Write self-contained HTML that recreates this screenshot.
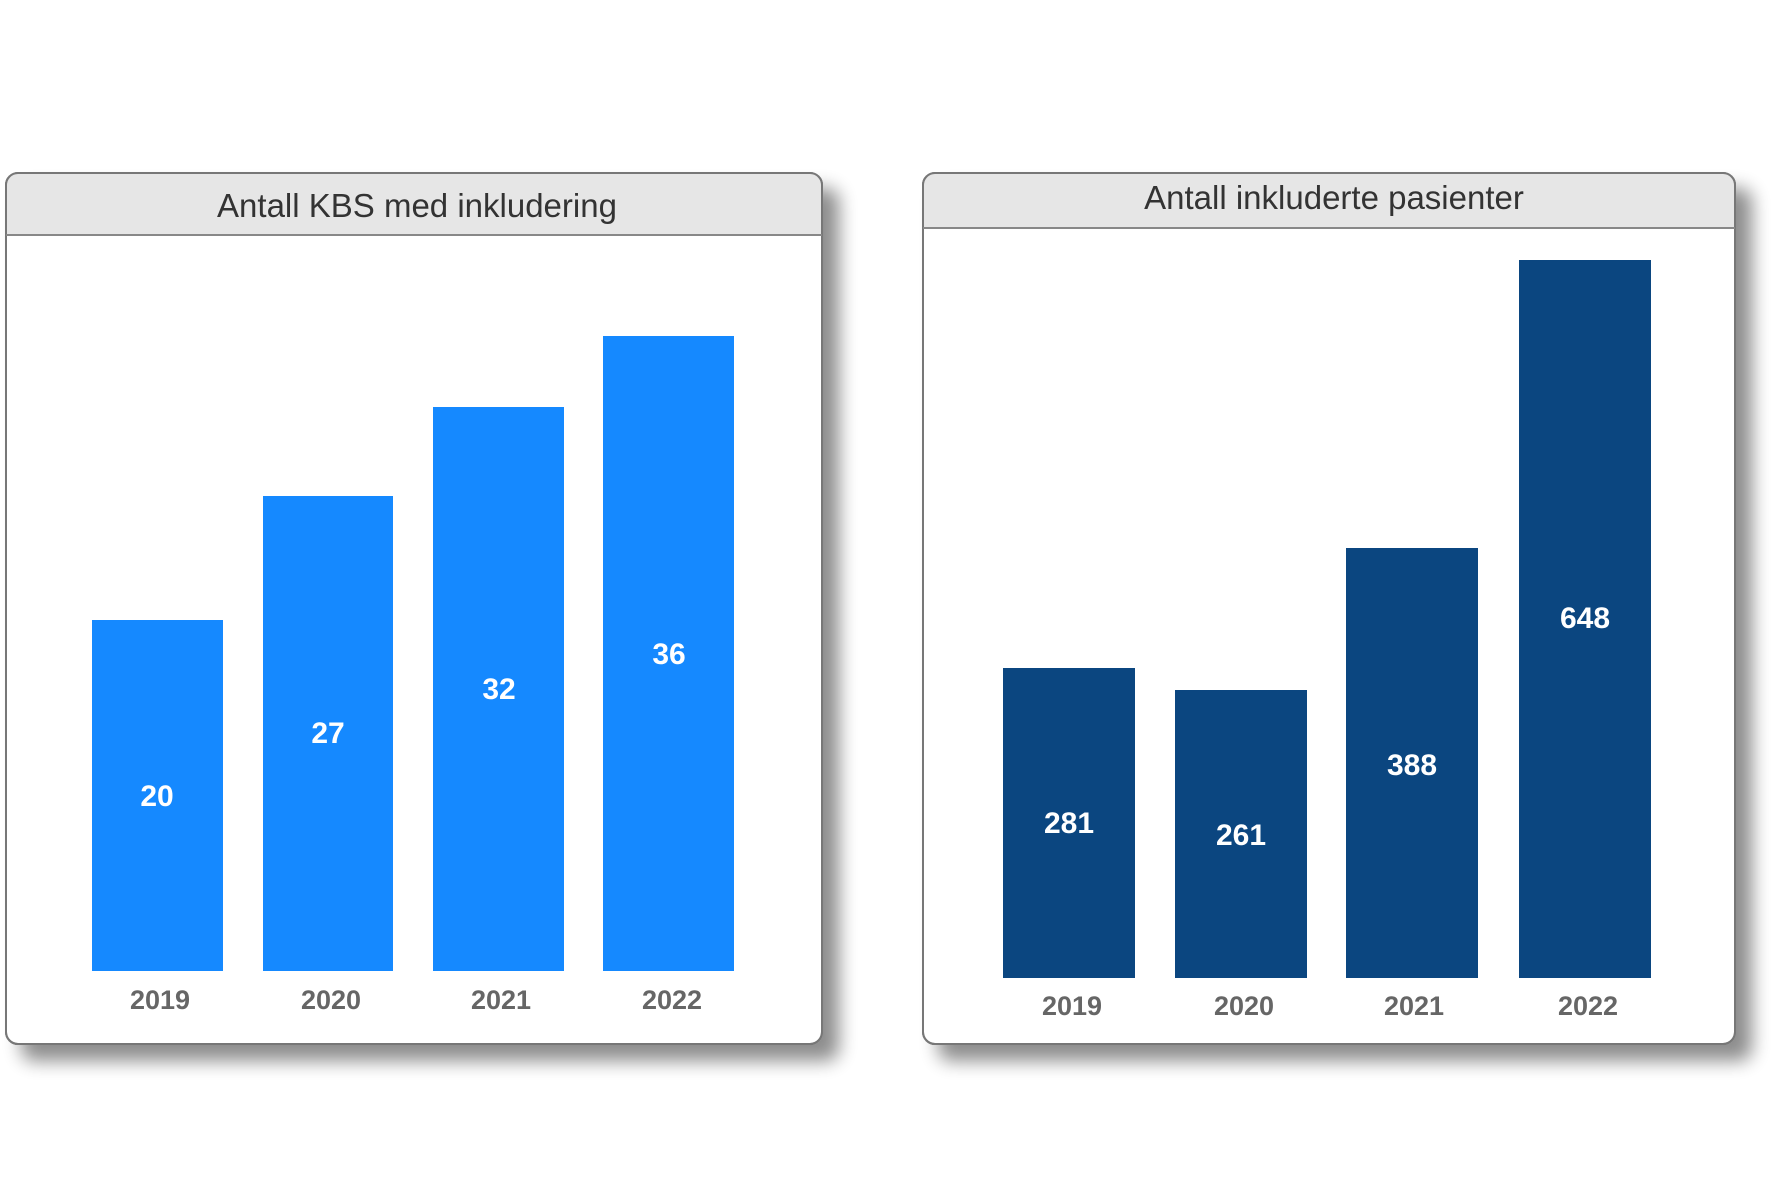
<!DOCTYPE html>
<html><head><meta charset="utf-8"><style>
html,body{margin:0;padding:0;background:#fff;}
svg{display:block;}
</style></head><body>
<svg width="1772" height="1182" viewBox="0 0 1772 1182" xmlns="http://www.w3.org/2000/svg" font-family="Liberation Sans, sans-serif">
<defs>
<filter id="sh" x="-10%" y="-10%" width="130%" height="130%">
<feGaussianBlur in="SourceAlpha" stdDeviation="9"/>
<feOffset dx="16" dy="16"/>
<feComponentTransfer><feFuncA type="linear" slope="0.45"/></feComponentTransfer>
<feMerge><feMergeNode/><feMergeNode in="SourceGraphic"/></feMerge>
</filter>
</defs>
<!-- Left panel -->
<g filter="url(#sh)">
<rect x="6" y="173" width="816" height="871" rx="12" fill="#fff" stroke="#777" stroke-width="2"/>
</g>
<path d="M7 235 V185 a12 12 0 0 1 12 -12 H809 a12 12 0 0 1 12 12 V235 Z" fill="#e6e6e6"/>
<rect x="6" y="173" width="816" height="871" rx="12" fill="none" stroke="#777" stroke-width="2"/>
<line x1="6" y1="235" x2="822" y2="235" stroke="#888" stroke-width="2"/>
<text x="417" y="217" text-anchor="middle" font-size="33" fill="#333">Antall KBS med inkludering</text>
<g fill="#1589ff">
<rect x="92" y="620" width="131" height="351"/>
<rect x="263" y="496" width="130" height="475"/>
<rect x="433" y="407" width="131" height="564"/>
<rect x="603" y="336" width="131" height="635"/>
</g>
<g fill="#fff" font-size="30" font-weight="bold" text-anchor="middle">
<text x="157" y="806">20</text>
<text x="328" y="743">27</text>
<text x="499" y="699">32</text>
<text x="669" y="664">36</text>
</g>
<g fill="#666" font-size="27" font-weight="bold" text-anchor="middle">
<text x="160" y="1009">2019</text>
<text x="331" y="1009">2020</text>
<text x="501" y="1009">2021</text>
<text x="672" y="1009">2022</text>
</g>
<!-- Right panel -->
<g filter="url(#sh)">
<rect x="923" y="173" width="812" height="871" rx="12" fill="#fff" stroke="#777" stroke-width="2"/>
</g>
<path d="M924 228 V185 a12 12 0 0 1 12 -12 H1722 a12 12 0 0 1 12 12 V228 Z" fill="#e6e6e6"/>
<rect x="923" y="173" width="812" height="871" rx="12" fill="none" stroke="#777" stroke-width="2"/>
<line x1="923" y1="228" x2="1735" y2="228" stroke="#888" stroke-width="2"/>
<text x="1334" y="209" text-anchor="middle" font-size="33" fill="#333">Antall inkluderte pasienter</text>
<g fill="#0b4680">
<rect x="1003" y="668" width="132" height="310"/>
<rect x="1175" y="690" width="132" height="288"/>
<rect x="1346" y="548" width="132" height="430"/>
<rect x="1519" y="260" width="132" height="718"/>
</g>
<g fill="#fff" font-size="30" font-weight="bold" text-anchor="middle">
<text x="1069" y="833">281</text>
<text x="1241" y="845">261</text>
<text x="1412" y="775">388</text>
<text x="1585" y="628">648</text>
</g>
<g fill="#666" font-size="27" font-weight="bold" text-anchor="middle">
<text x="1072" y="1015">2019</text>
<text x="1244" y="1015">2020</text>
<text x="1414" y="1015">2021</text>
<text x="1588" y="1015">2022</text>
</g>
</svg>
</body></html>
